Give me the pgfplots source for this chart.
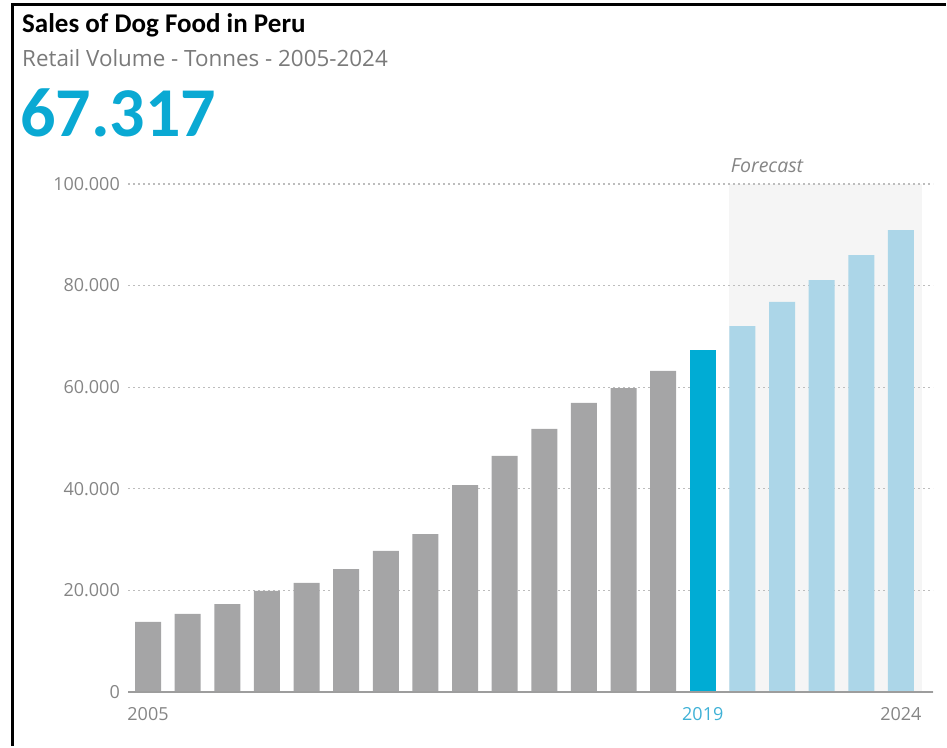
\documentclass[border=0pt]{standalone}
\usepackage{pgfplots}
\pgfplotsset{compat=1.18}
\usepackage{fontspec}
\setmainfont{Carlito}
\newfontfamily\tickfont{Open Sans}
\definecolor{bargray}{HTML}{A5A5A6}
\definecolor{barblue}{HTML}{00ACD4}
\definecolor{fcblue}{HTML}{ACD6E8}
\definecolor{numblue}{HTML}{0AA9D3}
\definecolor{labblue}{HTML}{3FB1D6}
\definecolor{txtgray}{HTML}{7A7A7A}
\definecolor{tickgray}{HTML}{858585}
\definecolor{shade}{HTML}{F5F5F5}
\definecolor{gridgray}{HTML}{BDBDBD}
\begin{document}
\begin{tikzpicture}[x=1pt,y=1pt]
\path (0,0) rectangle (947,746);
\draw[black,line width=3pt] (12,0) -- (12,741) -- (945.5,741);
\node[anchor=base west,inner sep=0pt,font=\fontsize{27}{29}\selectfont\bfseries] at (22,713) {Sales of Dog Food in Peru};
\node[anchor=base west,inner sep=0pt,text=txtgray,font=\tickfont\fontsize{22.4}{25}\selectfont] at (22,679) {Retail Volume - Tonnes - 2005-2024};
\node[anchor=base west,inner sep=0pt,text=numblue,font=\fontsize{70}{74}\selectfont\bfseries] at (20,609) {67.317};
\begin{axis}[
  at={(128pt,54pt)}, anchor=south west,
  scale only axis, width=805pt, height=508pt,
  set layers,
  xmin=-0.505, xmax=19.81, ymin=0, ymax=100000,
  scaled y ticks=false,
  axis line style={draw=none}, tick style={draw=none},
  ytick={0,20000,40000,60000,80000,100000},
  yticklabels={0,20.000,40.000,60.000,80.000,100.000},
  xtick={0,14,19},
  xticklabels={2005,\textcolor{labblue}{2019},2024},
  ymajorgrids,
  grid style={gridgray,line width=1.2pt,dash pattern=on 1.8pt off 3.2pt},
  yticklabel style={anchor=east,inner sep=0pt,xshift=-8pt,text=tickgray,font=\tickfont\fontsize{18}{20}\selectfont},
  xticklabel style={anchor=base,inner sep=0pt,yshift=-28pt,text=tickgray,font=\tickfont\fontsize{18}{20}\selectfont},
  bar width=0.656,
  clip=false,
]
\addplot[draw=none,fill=shade,on layer=axis background] coordinates {(14.66,100000) (19.53,100000)} \closedcycle;
\addplot[ybar,bar shift=0pt,fill=bargray,draw=none] coordinates {
(0,13800) (1,15400) (2,17300) (3,19900) (4,21500) (5,24200) (6,27800)
(7,31100) (8,40700) (9,46500) (10,51800) (11,56900) (12,59800) (13,63200)};
\addplot[ybar,bar shift=0pt,fill=barblue,draw=none] coordinates {(14,67317)};
\addplot[ybar,bar shift=0pt,fill=fcblue,draw=none] coordinates {
(15,72000) (16,76800) (17,81100) (18,86000) (19,90900)};
\draw[tickgray!80,line width=2pt] (rel axis cs:0,0) -- (rel axis cs:1,0);
\node[anchor=base,inner sep=0pt,text=tickgray,font=\tickfont\itshape\fontsize{19.5}{22}\selectfont] at (axis cs:15.62,102200) {Forecast};
\end{axis}
\end{tikzpicture}
\end{document}
